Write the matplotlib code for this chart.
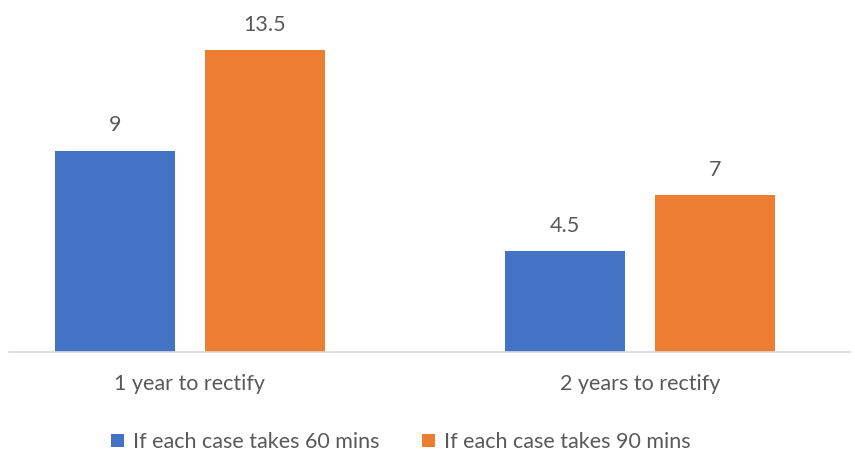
import matplotlib.pyplot as plt
import numpy as np

plt.rcParams["font.family"] = ["Lato", "DejaVu Sans"]

categories = ["1 year to rectify", "2 years to rectify"]
series_names = ["If each case takes 60 mins", "If each case takes 90 mins"]
values_60 = [9, 4.5]
values_90 = [13.5, 7]
value_labels_60 = ["9", "4.5"]
value_labels_90 = ["13.5", "7"]

BLUE = "#4472C4"
ORANGE = "#ED7D31"
GRAY = "#595959"

W, H = 855, 455
fig = plt.figure(figsize=(W / 100, H / 100), dpi=100)
# axes placed in pixel terms: x 9..850, baseline at y=352 from top
ax = fig.add_axes([9 / W, (H - 352) / H, (850 - 9) / W, 352 / H])

x = np.arange(len(categories))
width = 0.2667
offset = 0.1667
b1 = ax.bar(x - offset, values_60, width, color=BLUE, label=series_names[0])
b2 = ax.bar(x + offset, values_90, width, color=ORANGE, label=series_names[1])

for bars, labels in ((b1, value_labels_60), (b2, value_labels_90)):
    for rect, lab in zip(bars, labels):
        ax.annotate(lab, (rect.get_x() + rect.get_width() / 2, rect.get_height()),
                    xytext=(0, 11), textcoords="offset points",
                    ha="center", va="bottom", fontsize=15.5, color=GRAY)

ax.set_xlim((9 - 190) / 450, (850 - 190) / 450)
ax.set_ylim(0, 352 / 22.37)

for side in ("top", "right", "left"):
    ax.spines[side].set_visible(False)
ax.spines["bottom"].set_color("#D9D9D9")
ax.spines["bottom"].set_linewidth(1.2)
ax.set_yticks([])
ax.set_xticks(x)
ax.set_xticklabels(categories, fontsize=15.5, color=GRAY)
ax.tick_params(axis="x", length=0, pad=16)

fig.legend(handles=[b1, b2], loc="center", bbox_to_anchor=(401 / W, 1 - 442 / H),
           ncol=2, frameon=False, fontsize=15.5, labelcolor=GRAY,
           handlelength=0.6, handleheight=0.6, handletextpad=0.4, columnspacing=2.0)

fig.savefig("out.png", dpi=100)
